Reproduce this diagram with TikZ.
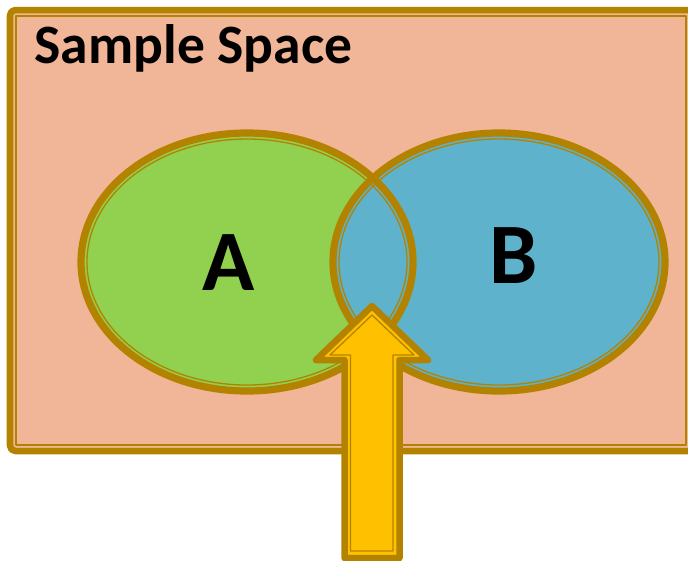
\documentclass[tikz,border=0pt]{standalone}
\usepackage{fontspec}
\setmainfont{Carlito}
\definecolor{salmon}{HTML}{F1B597}
\definecolor{leaf}{HTML}{92D050}
\definecolor{sky}{HTML}{5EB2CC}
\definecolor{gold}{HTML}{B38300}
\definecolor{amber}{HTML}{FFC000}
\usepackage{tikz}

\begin{document}
\begin{tikzpicture}[x=0.01cm,y=-0.01cm,
        thickrim/.style={gold,line width=0.065cm,line join=round},
        thinrim/.style={gold,line width=0.013cm,line join=round}]
        \clip (0,0) rectangle (688,560);
        \fill[salmon,rounded corners=1.5pt] (10,10) rectangle (702,451);
        \draw[thickrim,rounded corners=1.5pt] (10,10) rectangle (702,451);
        \draw[thinrim] (16,16) rectangle (686,445);
        \node[anchor=base west,inner sep=0,font=\bfseries\fontsize{15.8}{19}\selectfont] (title) at (34,63) {Sample Space};
        \fill[leaf] (247,262) ellipse [x radius=166,y radius=129];
        \fill[sky] (499,262) ellipse [x radius=166,y radius=129];
        \draw[thickrim,line width=0.072cm] (247,262) ellipse [x radius=166,y radius=129];
        \draw[thinrim] (247,262) ellipse [x radius=160,y radius=123];
        \draw[thickrim,line width=0.072cm] (499,262) ellipse [x radius=166,y radius=129];
        \draw[thinrim] (499,262) ellipse [x radius=160,y radius=123];
        \node[anchor=base,inner sep=0,font=\bfseries\fontsize{24.5}{28}\selectfont] (a) at (229,290) {A};
        \node[anchor=base,inner sep=0,font=\bfseries\fontsize{24.5}{28}\selectfont] (b) at (514,283) {B};
        \filldraw[thickrim,fill=amber] (372,306) -- (428,360) -- (399.5,360) -- (399.5,558) -- (344.5,558) -- (344.5,360) -- (316,360) -- cycle;
        \draw[thinrim] (372,315) -- (414,355) -- (393,355) -- (393,551) -- (350.5,551) -- (350.5,355) -- (330,355) -- cycle;
      \end{tikzpicture}
\end{document}
